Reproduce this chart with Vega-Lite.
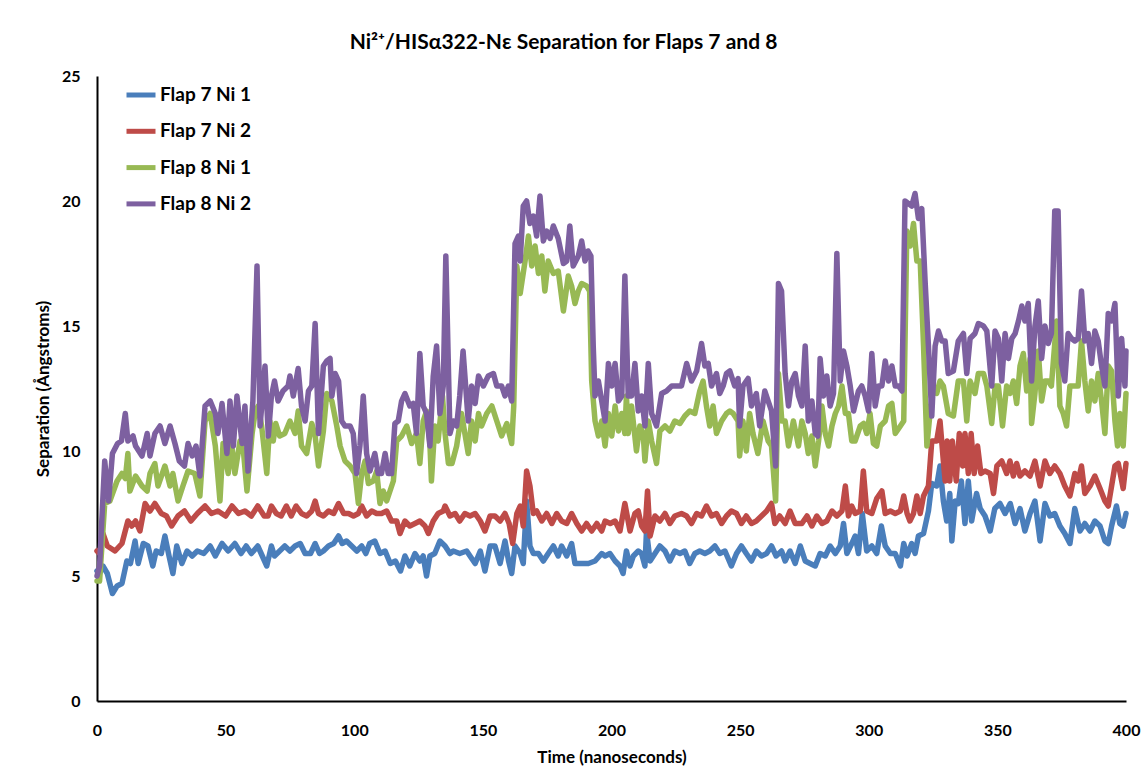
{
"$schema": "https://vega.github.io/schema/vega-lite/v6.json",
"width": 1029, "height": 625,
"autosize": {"type": "none"},
"padding": {"left": 97, "top": 76, "right": 20, "bottom": 81},
"background": "white",
"config": {"font": "Lato", "view": {"stroke": null}},
"title": {"text": "Ni²⁺/HISα322-Nε Separation for Flaps 7 and 8", "fontSize": 21, "fontWeight": "bold", "font": "Lato", "color": "black", "anchor": "middle", "frame": "group", "dx": -48, "offset": 15},
"datasets": {
"b": [{"t":0,"v":5.2},{"t":1,"v":5.1},{"t":2.3,"v":5.4},{"t":4,"v":5.1},{"t":6,"v":4.3},{"t":7.8,"v":4.6},{"t":9.7,"v":4.7},{"t":11.6,"v":5.6},{"t":13,"v":5.5},{"t":14.8,"v":6.4},{"t":16,"v":5.5},{"t":18,"v":6.3},{"t":19.8,"v":6.2},{"t":21.7,"v":5.4},{"t":23,"v":6.0},{"t":25,"v":5.9},{"t":26.4,"v":6.6},{"t":28,"v":5.8},{"t":29.5,"v":5.1},{"t":31,"v":6.2},{"t":33,"v":5.5},{"t":35,"v":6.0},{"t":37,"v":5.8},{"t":39,"v":6.0},{"t":41.5,"v":5.9},{"t":44,"v":6.2},{"t":46,"v":5.8},{"t":48.6,"v":6.3},{"t":51,"v":6.0},{"t":53.6,"v":6.3},{"t":56,"v":5.9},{"t":58,"v":6.2},{"t":60,"v":5.9},{"t":62.5,"v":6.2},{"t":66,"v":5.4},{"t":67.8,"v":6.2},{"t":69,"v":5.8},{"t":71,"v":6.0},{"t":73,"v":6.2},{"t":75,"v":6.0},{"t":77,"v":6.2},{"t":79,"v":6.3},{"t":80.9,"v":5.9},{"t":83,"v":5.9},{"t":84.8,"v":6.3},{"t":86.5,"v":5.9},{"t":88,"v":6.0},{"t":90,"v":6.2},{"t":92,"v":6.3},{"t":93.9,"v":6.6},{"t":95.3,"v":6.3},{"t":97,"v":6.4},{"t":99,"v":6.2},{"t":101,"v":6.0},{"t":102.9,"v":6.2},{"t":104.5,"v":5.9},{"t":106,"v":6.3},{"t":108,"v":6.4},{"t":110,"v":5.9},{"t":112,"v":6.0},{"t":114,"v":5.5},{"t":116,"v":5.6},{"t":118,"v":5.2},{"t":119.7,"v":5.8},{"t":121.6,"v":5.4},{"t":123.6,"v":5.9},{"t":125.5,"v":5.6},{"t":126.8,"v":5.8},{"t":128.1,"v":5.0},{"t":129.4,"v":5.8},{"t":131.3,"v":5.9},{"t":133.3,"v":6.4},{"t":135.3,"v":6.2},{"t":137.2,"v":5.9},{"t":138.5,"v":6.0},{"t":141,"v":5.9},{"t":143.7,"v":6.0},{"t":145,"v":5.8},{"t":147,"v":5.5},{"t":149,"v":6.0},{"t":150.8,"v":5.2},{"t":152.8,"v":6.2},{"t":154.7,"v":6.2},{"t":156.7,"v":5.5},{"t":158.6,"v":6.4},{"t":160,"v":5.6},{"t":161.2,"v":5.1},{"t":162.5,"v":6.2},{"t":164.5,"v":5.9},{"t":165.7,"v":5.5},{"t":167,"v":8.0},{"t":168.3,"v":6.2},{"t":169.6,"v":5.9},{"t":171.6,"v":5.9},{"t":173.5,"v":5.6},{"t":175.4,"v":5.9},{"t":177.4,"v":6.2},{"t":179.3,"v":5.8},{"t":180.6,"v":6.2},{"t":182.6,"v":5.8},{"t":184.5,"v":6.3},{"t":185.8,"v":5.5},{"t":188.4,"v":5.5},{"t":191,"v":5.5},{"t":193.6,"v":5.6},{"t":196.2,"v":5.9},{"t":197.5,"v":5.8},{"t":199.4,"v":5.9},{"t":201.4,"v":5.6},{"t":203.3,"v":5.4},{"t":204.5,"v":5.1},{"t":205.8,"v":6.0},{"t":207.2,"v":5.4},{"t":208.5,"v":5.8},{"t":210.4,"v":6.0},{"t":211.7,"v":5.9},{"t":213,"v":5.4},{"t":213.6,"v":6.8},{"t":215,"v":5.6},{"t":216.9,"v":5.9},{"t":218.8,"v":6.2},{"t":220.8,"v":6.0},{"t":222.7,"v":5.6},{"t":224.6,"v":6.0},{"t":226.6,"v":5.9},{"t":228.5,"v":6.0},{"t":230.4,"v":5.5},{"t":232.4,"v":5.9},{"t":234.3,"v":6.0},{"t":236.3,"v":5.9},{"t":238.2,"v":6.0},{"t":240.2,"v":6.2},{"t":242.1,"v":5.9},{"t":244.1,"v":6.0},{"t":246.6,"v":5.4},{"t":248.6,"v":5.9},{"t":250.5,"v":6.2},{"t":252.4,"v":5.9},{"t":254.4,"v":5.6},{"t":256.3,"v":6.0},{"t":258.3,"v":5.8},{"t":260.3,"v":5.9},{"t":262.2,"v":6.2},{"t":264,"v":5.8},{"t":266.1,"v":6.0},{"t":267.5,"v":5.6},{"t":269.4,"v":6.0},{"t":271.4,"v":5.5},{"t":273.4,"v":6.2},{"t":275.3,"v":5.6},{"t":277.2,"v":5.5},{"t":279.2,"v":5.4},{"t":281.1,"v":5.9},{"t":283.1,"v":5.8},{"t":285,"v":6.2},{"t":287,"v":5.9},{"t":288.9,"v":6.2},{"t":290.2,"v":7.1},{"t":291.5,"v":5.9},{"t":293.4,"v":6.3},{"t":294.7,"v":6.6},{"t":296,"v":5.9},{"t":297.5,"v":7.5},{"t":299.2,"v":6.0},{"t":301.2,"v":6.2},{"t":303.1,"v":5.9},{"t":304.9,"v":7.0},{"t":306.4,"v":6.2},{"t":308.4,"v":5.9},{"t":310.3,"v":5.9},{"t":312.3,"v":5.4},{"t":313.6,"v":6.3},{"t":314.9,"v":5.8},{"t":316.7,"v":6.3},{"t":318,"v":5.9},{"t":319.3,"v":6.6},{"t":321.3,"v":6.7},{"t":323.2,"v":7.6},{"t":324.5,"v":8.7},{"t":326.4,"v":8.6},{"t":327.7,"v":9.4},{"t":329,"v":8.0},{"t":330.3,"v":7.2},{"t":331.5,"v":8.3},{"t":332.3,"v":6.4},{"t":333.6,"v":8.0},{"t":334.8,"v":7.9},{"t":336,"v":8.8},{"t":337.4,"v":7.1},{"t":338.7,"v":8.8},{"t":340,"v":7.2},{"t":341.9,"v":8.3},{"t":343.3,"v":7.7},{"t":345.2,"v":7.4},{"t":347.2,"v":6.8},{"t":349,"v":7.7},{"t":351,"v":7.9},{"t":353,"v":7.5},{"t":355,"v":7.9},{"t":356.9,"v":7.1},{"t":358.8,"v":7.7},{"t":360.7,"v":6.8},{"t":362.7,"v":7.5},{"t":364.6,"v":8.0},{"t":366.6,"v":6.4},{"t":368.5,"v":7.9},{"t":370.4,"v":7.4},{"t":372.3,"v":7.5},{"t":374.3,"v":7.0},{"t":376.2,"v":6.7},{"t":378.2,"v":6.3},{"t":380.1,"v":7.7},{"t":382.1,"v":6.8},{"t":384,"v":7.1},{"t":386,"v":6.8},{"t":387.9,"v":7.2},{"t":389.9,"v":7.0},{"t":391.8,"v":6.4},{"t":393.1,"v":6.3},{"t":394.4,"v":7.0},{"t":396.3,"v":7.8},{"t":397.6,"v":7.1},{"t":398.9,"v":7.0},{"t":400,"v":7.5}],
"r": [{"t":0,"v":6.0},{"t":1,"v":5.9},{"t":2.3,"v":6.7},{"t":4,"v":6.2},{"t":5.5,"v":6.1},{"t":7,"v":6.0},{"t":9.7,"v":6.3},{"t":12,"v":7.2},{"t":13.5,"v":7.0},{"t":15,"v":7.2},{"t":16.7,"v":6.8},{"t":18.7,"v":7.9},{"t":20.6,"v":7.6},{"t":22.5,"v":7.9},{"t":25,"v":7.5},{"t":27,"v":7.4},{"t":29,"v":7.0},{"t":31.5,"v":7.4},{"t":34,"v":7.6},{"t":36.5,"v":7.2},{"t":39,"v":7.5},{"t":42,"v":7.8},{"t":44.5,"v":7.5},{"t":47,"v":7.6},{"t":50,"v":7.4},{"t":52.5,"v":7.8},{"t":55,"v":7.5},{"t":57.5,"v":7.6},{"t":60,"v":7.4},{"t":62.5,"v":7.8},{"t":65,"v":7.4},{"t":66.5,"v":7.4},{"t":67.8,"v":7.8},{"t":69.7,"v":7.5},{"t":71.6,"v":7.4},{"t":73.6,"v":7.8},{"t":75.5,"v":7.4},{"t":77.4,"v":7.8},{"t":79.5,"v":7.5},{"t":81.5,"v":7.4},{"t":83.5,"v":7.6},{"t":84.8,"v":8.0},{"t":86.1,"v":7.5},{"t":88,"v":7.4},{"t":90,"v":7.6},{"t":92,"v":7.5},{"t":93.9,"v":7.9},{"t":95.9,"v":7.5},{"t":97.8,"v":7.5},{"t":99.7,"v":7.4},{"t":101.6,"v":7.5},{"t":102.9,"v":7.8},{"t":104.8,"v":7.4},{"t":106.8,"v":7.6},{"t":108.7,"v":7.5},{"t":110.6,"v":7.5},{"t":112.6,"v":7.6},{"t":114.5,"v":7.2},{"t":116.5,"v":7.2},{"t":117.8,"v":6.7},{"t":119.7,"v":7.2},{"t":121.6,"v":7.0},{"t":123.6,"v":7.1},{"t":125.5,"v":7.2},{"t":127.5,"v":7.0},{"t":128.8,"v":6.7},{"t":130.7,"v":7.2},{"t":132.6,"v":7.5},{"t":134.6,"v":7.6},{"t":135.3,"v":7.8},{"t":137.2,"v":7.4},{"t":139.2,"v":7.5},{"t":141,"v":7.2},{"t":143,"v":7.5},{"t":145,"v":7.4},{"t":147,"v":7.5},{"t":149,"v":7.2},{"t":150.8,"v":6.8},{"t":152.8,"v":7.4},{"t":154.7,"v":7.4},{"t":156.7,"v":7.2},{"t":158.6,"v":7.5},{"t":160.2,"v":7.1},{"t":161.6,"v":6.3},{"t":163.2,"v":7.5},{"t":164.5,"v":7.8},{"t":165.7,"v":7.0},{"t":167,"v":9.2},{"t":168.3,"v":8.6},{"t":169.6,"v":7.5},{"t":170.9,"v":7.6},{"t":172.9,"v":7.2},{"t":174.8,"v":7.5},{"t":176.8,"v":7.1},{"t":178.7,"v":7.5},{"t":180.6,"v":7.2},{"t":182.6,"v":7.1},{"t":184.5,"v":7.5},{"t":186.5,"v":7.1},{"t":188.4,"v":6.8},{"t":190.3,"v":7.1},{"t":192.3,"v":6.8},{"t":194.3,"v":7.1},{"t":196.2,"v":6.8},{"t":197.5,"v":7.2},{"t":199.5,"v":7.1},{"t":201.4,"v":7.2},{"t":203.3,"v":6.8},{"t":205.2,"v":7.9},{"t":207.2,"v":6.8},{"t":209.1,"v":7.5},{"t":210.4,"v":7.6},{"t":211.7,"v":7.0},{"t":213,"v":6.8},{"t":214,"v":8.4},{"t":215,"v":6.6},{"t":216.9,"v":7.4},{"t":218.8,"v":7.2},{"t":220.8,"v":7.5},{"t":222.7,"v":7.1},{"t":224.6,"v":7.4},{"t":227.2,"v":7.5},{"t":229.2,"v":7.4},{"t":231.1,"v":7.1},{"t":233.1,"v":7.5},{"t":235,"v":7.4},{"t":236.9,"v":7.8},{"t":238.9,"v":7.4},{"t":240.8,"v":7.5},{"t":242.8,"v":7.1},{"t":244.7,"v":7.4},{"t":246.6,"v":7.6},{"t":248.6,"v":7.5},{"t":250.5,"v":7.1},{"t":252.4,"v":7.4},{"t":254.4,"v":7.1},{"t":256.3,"v":7.2},{"t":258.3,"v":7.4},{"t":260.3,"v":7.6},{"t":262.2,"v":7.9},{"t":263.5,"v":7.1},{"t":265.4,"v":7.4},{"t":267.5,"v":7.1},{"t":269.4,"v":7.6},{"t":271.4,"v":7.1},{"t":274,"v":7.1},{"t":276,"v":7.4},{"t":277.9,"v":7.0},{"t":279.8,"v":7.4},{"t":281.8,"v":7.1},{"t":283.7,"v":7.2},{"t":285.7,"v":7.6},{"t":287.6,"v":7.4},{"t":289.6,"v":7.6},{"t":290.9,"v":8.6},{"t":292.1,"v":7.4},{"t":293.4,"v":7.8},{"t":294.7,"v":7.5},{"t":296.7,"v":7.6},{"t":297.9,"v":9.2},{"t":299.2,"v":7.6},{"t":301.2,"v":7.5},{"t":303.1,"v":8.1},{"t":305.1,"v":8.4},{"t":306.4,"v":7.5},{"t":308.4,"v":7.6},{"t":310.3,"v":7.5},{"t":312.3,"v":7.6},{"t":313.6,"v":8.2},{"t":314.9,"v":7.5},{"t":316,"v":7.2},{"t":317.4,"v":7.5},{"t":318.7,"v":8.2},{"t":320,"v":7.5},{"t":321.3,"v":8.2},{"t":323.2,"v":8.6},{"t":324.5,"v":10.4},{"t":326.4,"v":10.4},{"t":327.7,"v":11.2},{"t":329,"v":9.6},{"t":329.7,"v":8.8},{"t":330.5,"v":10.4},{"t":331.5,"v":8.8},{"t":332.5,"v":10.4},{"t":334,"v":8.8},{"t":335.2,"v":10.7},{"t":336.5,"v":9.4},{"t":337.4,"v":10.7},{"t":338.7,"v":9.1},{"t":339.8,"v":10.7},{"t":341,"v":9.1},{"t":342.3,"v":10.2},{"t":343.6,"v":9.1},{"t":345.2,"v":9.2},{"t":347.2,"v":9.1},{"t":348.5,"v":8.3},{"t":349.8,"v":9.4},{"t":351.7,"v":9.6},{"t":353.6,"v":9.1},{"t":354.9,"v":9.6},{"t":356.2,"v":9.0},{"t":357.5,"v":9.5},{"t":358.8,"v":9.0},{"t":360.7,"v":9.2},{"t":362.7,"v":9.0},{"t":364.6,"v":9.6},{"t":366.6,"v":8.6},{"t":368.5,"v":9.6},{"t":370.4,"v":9.1},{"t":372.3,"v":9.4},{"t":374.3,"v":9.1},{"t":376.2,"v":8.6},{"t":378.2,"v":8.2},{"t":380.1,"v":9.1},{"t":381.4,"v":8.8},{"t":382.7,"v":9.4},{"t":384,"v":8.3},{"t":386,"v":8.6},{"t":387.9,"v":9.0},{"t":389.9,"v":8.5},{"t":391.8,"v":8.0},{"t":393.1,"v":7.8},{"t":394.4,"v":8.6},{"t":395.7,"v":9.4},{"t":397,"v":9.5},{"t":398.9,"v":8.5},{"t":400,"v":9.5}],
"g": [{"t":0,"v":4.8},{"t":1,"v":4.8},{"t":3,"v":7.9},{"t":5,"v":8.0},{"t":7.8,"v":8.8},{"t":9.7,"v":9.1},{"t":11,"v":8.9},{"t":12,"v":9.9},{"t":12.8,"v":8.4},{"t":15,"v":9.0},{"t":17.5,"v":8.6},{"t":19.5,"v":8.4},{"t":20.6,"v":9.1},{"t":22.5,"v":9.5},{"t":23.7,"v":8.6},{"t":26.4,"v":9.4},{"t":28.4,"v":8.6},{"t":29.5,"v":9.1},{"t":31.5,"v":8.0},{"t":33.4,"v":8.6},{"t":35.4,"v":9.2},{"t":38,"v":9.1},{"t":40,"v":8.2},{"t":42,"v":11.2},{"t":44,"v":11.5},{"t":46,"v":10.2},{"t":47.8,"v":8.0},{"t":49,"v":10.3},{"t":51,"v":9.1},{"t":52.3,"v":10.3},{"t":53.6,"v":9.1},{"t":55.6,"v":10.4},{"t":57,"v":9.9},{"t":58.3,"v":8.4},{"t":60.3,"v":10.7},{"t":61.4,"v":11.5},{"t":62.6,"v":11.8},{"t":64,"v":11.0},{"t":66,"v":9.1},{"t":67.2,"v":11.2},{"t":68.5,"v":10.4},{"t":69.5,"v":11.1},{"t":71,"v":10.6},{"t":73,"v":10.7},{"t":75,"v":11.2},{"t":77,"v":10.7},{"t":78.2,"v":11.6},{"t":79.5,"v":10.2},{"t":81.5,"v":9.9},{"t":83.5,"v":11.1},{"t":84.8,"v":10.6},{"t":86.1,"v":9.4},{"t":88,"v":10.8},{"t":89.3,"v":12.3},{"t":91.3,"v":12.0},{"t":93.2,"v":11.0},{"t":94.5,"v":10.2},{"t":96.4,"v":9.6},{"t":98.4,"v":9.4},{"t":100.3,"v":9.1},{"t":101.6,"v":7.9},{"t":102.9,"v":9.1},{"t":104.2,"v":9.6},{"t":105.5,"v":8.7},{"t":107.4,"v":8.8},{"t":108.7,"v":9.2},{"t":110,"v":7.9},{"t":111.3,"v":8.4},{"t":112.6,"v":8.0},{"t":113.9,"v":8.4},{"t":115.2,"v":8.8},{"t":116.5,"v":10.4},{"t":118.4,"v":10.6},{"t":120.4,"v":11.0},{"t":122.3,"v":10.3},{"t":124.2,"v":10.7},{"t":125.5,"v":9.5},{"t":126.8,"v":11.2},{"t":128.1,"v":11.6},{"t":129.4,"v":10.3},{"t":130,"v":8.8},{"t":131.3,"v":11.0},{"t":132.6,"v":10.4},{"t":134.3,"v":12.2},{"t":135.3,"v":10.7},{"t":136.6,"v":9.5},{"t":138,"v":9.5},{"t":139.8,"v":10.2},{"t":141.7,"v":11.5},{"t":143,"v":10.7},{"t":144.3,"v":9.9},{"t":145.6,"v":11.2},{"t":147,"v":10.4},{"t":148.3,"v":11.5},{"t":149.5,"v":11.0},{"t":151.5,"v":11.5},{"t":153.5,"v":11.8},{"t":155.4,"v":11.2},{"t":157.3,"v":10.6},{"t":159.3,"v":11.1},{"t":161.2,"v":10.3},{"t":162,"v":11.8},{"t":163.2,"v":17.4},{"t":164.5,"v":16.3},{"t":166.4,"v":17.6},{"t":167.7,"v":18.6},{"t":169,"v":17.4},{"t":170.3,"v":18.2},{"t":171.6,"v":17.1},{"t":172.9,"v":17.8},{"t":174.1,"v":16.4},{"t":175.4,"v":17.6},{"t":177.4,"v":17.1},{"t":179.3,"v":17.2},{"t":181.3,"v":15.6},{"t":183.2,"v":17.0},{"t":184.5,"v":16.6},{"t":185.8,"v":15.9},{"t":187.1,"v":16.4},{"t":188.4,"v":16.7},{"t":190.3,"v":16.6},{"t":191.5,"v":16.4},{"t":192.3,"v":12.8},{"t":193.6,"v":11.2},{"t":194.9,"v":10.6},{"t":196.2,"v":11.2},{"t":197.5,"v":10.2},{"t":198.8,"v":11.5},{"t":200.1,"v":10.6},{"t":201.4,"v":11.8},{"t":202.7,"v":10.8},{"t":204,"v":11.5},{"t":205.2,"v":10.7},{"t":205.8,"v":12.2},{"t":206.5,"v":10.7},{"t":207.8,"v":11.8},{"t":209.7,"v":10.0},{"t":211,"v":11.0},{"t":212.3,"v":10.7},{"t":213,"v":9.6},{"t":214.3,"v":11.2},{"t":215.6,"v":10.4},{"t":217.5,"v":9.5},{"t":218.8,"v":10.8},{"t":220.8,"v":11.0},{"t":222.7,"v":10.8},{"t":224.6,"v":11.2},{"t":226.6,"v":11.1},{"t":228.5,"v":11.4},{"t":230.4,"v":11.6},{"t":232.4,"v":11.5},{"t":234.3,"v":12.4},{"t":235.6,"v":12.8},{"t":236.9,"v":11.8},{"t":238.2,"v":11.0},{"t":239.5,"v":11.8},{"t":240.8,"v":10.7},{"t":242.8,"v":11.2},{"t":244.7,"v":11.5},{"t":246,"v":11.6},{"t":247.3,"v":11.5},{"t":249.2,"v":11.2},{"t":249.8,"v":9.8},{"t":251.1,"v":11.2},{"t":252.4,"v":10.0},{"t":253.7,"v":11.5},{"t":255,"v":10.7},{"t":256.9,"v":9.9},{"t":258.9,"v":11.2},{"t":260.9,"v":10.4},{"t":262.2,"v":10.2},{"t":263.8,"v":8.0},{"t":264.9,"v":13.1},{"t":266.2,"v":11.2},{"t":267.5,"v":11.2},{"t":268.8,"v":10.2},{"t":270.7,"v":11.2},{"t":272.7,"v":10.2},{"t":274,"v":11.2},{"t":275.3,"v":10.7},{"t":276.5,"v":9.9},{"t":277.9,"v":10.6},{"t":279.2,"v":9.4},{"t":280.5,"v":10.4},{"t":281.8,"v":11.8},{"t":283.1,"v":10.7},{"t":284.4,"v":10.2},{"t":285.7,"v":11.0},{"t":287,"v":11.5},{"t":288.3,"v":11.8},{"t":289.6,"v":12.6},{"t":290.9,"v":11.5},{"t":292.1,"v":11.5},{"t":293.4,"v":10.4},{"t":294.7,"v":10.4},{"t":296.7,"v":11.0},{"t":298,"v":11.1},{"t":299.2,"v":10.7},{"t":300.5,"v":11.5},{"t":301.8,"v":10.3},{"t":303.1,"v":10.2},{"t":304.5,"v":11.0},{"t":306.4,"v":11.2},{"t":307.7,"v":11.8},{"t":309,"v":11.9},{"t":310.3,"v":10.7},{"t":312.3,"v":11.0},{"t":313.6,"v":11.2},{"t":314.8,"v":18.8},{"t":316.1,"v":18.2},{"t":317.4,"v":19.1},{"t":318.7,"v":17.6},{"t":320,"v":17.6},{"t":321.3,"v":14.2},{"t":322.6,"v":10.2},{"t":323.9,"v":11.6},{"t":325.1,"v":12.6},{"t":326.4,"v":12.3},{"t":327.7,"v":12.8},{"t":329,"v":12.6},{"t":330.9,"v":11.5},{"t":332.9,"v":11.4},{"t":334.8,"v":12.8},{"t":336.8,"v":12.8},{"t":338.1,"v":11.2},{"t":339.4,"v":12.8},{"t":341.3,"v":12.3},{"t":342.6,"v":13.1},{"t":344.6,"v":13.1},{"t":345.9,"v":12.6},{"t":347.8,"v":11.1},{"t":349.1,"v":12.6},{"t":350.4,"v":12.6},{"t":352,"v":11.0},{"t":353.6,"v":12.6},{"t":354.9,"v":12.3},{"t":356.2,"v":12.8},{"t":357.5,"v":11.9},{"t":358.8,"v":13.4},{"t":360.1,"v":13.9},{"t":361.4,"v":12.4},{"t":362.7,"v":13.7},{"t":363.3,"v":11.1},{"t":364.6,"v":12.3},{"t":365.9,"v":14.0},{"t":367.2,"v":12.0},{"t":368.5,"v":12.8},{"t":369.8,"v":12.8},{"t":371,"v":12.6},{"t":373,"v":15.2},{"t":374.3,"v":11.8},{"t":375.6,"v":11.5},{"t":376.9,"v":11.0},{"t":378.2,"v":12.6},{"t":380.1,"v":12.6},{"t":381.4,"v":12.6},{"t":382.7,"v":14.4},{"t":384,"v":12.8},{"t":385.3,"v":11.6},{"t":386.6,"v":12.8},{"t":387.9,"v":12.0},{"t":389.2,"v":13.1},{"t":390.5,"v":12.0},{"t":391.8,"v":10.7},{"t":393.1,"v":13.4},{"t":394.4,"v":13.2},{"t":395.7,"v":11.2},{"t":396.7,"v":10.2},{"t":397.6,"v":11.5},{"t":398.9,"v":10.2},{"t":400,"v":12.3}],
"p": [{"t":0,"v":5.0},{"t":1,"v":5.4},{"t":3,"v":9.6},{"t":4.5,"v":8.0},{"t":6,"v":9.9},{"t":8,"v":10.3},{"t":9.5,"v":10.4},{"t":11,"v":11.5},{"t":12,"v":10.4},{"t":14,"v":10.6},{"t":15,"v":10.2},{"t":17.5,"v":9.8},{"t":19.5,"v":10.7},{"t":20.6,"v":9.8},{"t":22.5,"v":10.7},{"t":24.5,"v":11.0},{"t":26.4,"v":10.3},{"t":28.4,"v":11.0},{"t":30.3,"v":10.3},{"t":32,"v":9.6},{"t":34,"v":9.4},{"t":35.4,"v":10.3},{"t":37,"v":9.8},{"t":38.5,"v":10.2},{"t":40,"v":9.0},{"t":42,"v":11.8},{"t":44,"v":12.0},{"t":46,"v":11.5},{"t":47,"v":10.7},{"t":48.6,"v":11.9},{"t":50.5,"v":9.9},{"t":51.7,"v":12.0},{"t":53,"v":10.2},{"t":54.4,"v":12.2},{"t":56.4,"v":10.3},{"t":57.5,"v":11.8},{"t":58.7,"v":9.2},{"t":60.6,"v":12.0},{"t":62.2,"v":17.4},{"t":63.4,"v":11.0},{"t":65.3,"v":13.4},{"t":66.6,"v":10.6},{"t":67.8,"v":12.2},{"t":69,"v":12.8},{"t":70.4,"v":12.0},{"t":72.3,"v":12.4},{"t":74.3,"v":12.6},{"t":75,"v":13.0},{"t":76.3,"v":12.2},{"t":78.2,"v":13.3},{"t":79.5,"v":11.8},{"t":80.9,"v":11.2},{"t":82.2,"v":12.4},{"t":83.5,"v":12.6},{"t":84.8,"v":15.1},{"t":86.1,"v":10.7},{"t":88,"v":13.4},{"t":89.3,"v":13.6},{"t":90.6,"v":13.7},{"t":91.3,"v":12.2},{"t":92.6,"v":13.1},{"t":93.9,"v":12.8},{"t":95.1,"v":11.2},{"t":96.4,"v":11.0},{"t":98.4,"v":11.0},{"t":99.6,"v":10.7},{"t":100.9,"v":9.1},{"t":102.2,"v":10.2},{"t":103.5,"v":12.2},{"t":104.8,"v":9.9},{"t":106.1,"v":9.2},{"t":108,"v":9.9},{"t":109.3,"v":9.1},{"t":110.6,"v":9.1},{"t":112,"v":9.9},{"t":113.2,"v":9.1},{"t":114.5,"v":9.1},{"t":115.8,"v":11.1},{"t":117.1,"v":11.2},{"t":118.4,"v":12.0},{"t":119.7,"v":12.3},{"t":121.6,"v":11.8},{"t":122.9,"v":11.9},{"t":124.2,"v":10.7},{"t":125.5,"v":13.9},{"t":126.8,"v":11.8},{"t":128.1,"v":11.5},{"t":129.4,"v":10.2},{"t":130.7,"v":13.0},{"t":132,"v":14.2},{"t":133.3,"v":11.5},{"t":134.6,"v":12.6},{"t":135.6,"v":17.8},{"t":137.2,"v":10.7},{"t":138.5,"v":11.2},{"t":139.8,"v":11.0},{"t":141,"v":12.2},{"t":142.3,"v":14.0},{"t":144.3,"v":11.2},{"t":145.6,"v":12.6},{"t":147,"v":11.9},{"t":148.3,"v":13.0},{"t":150.2,"v":12.6},{"t":152.1,"v":13.0},{"t":154.1,"v":13.1},{"t":155.4,"v":12.6},{"t":157.3,"v":12.6},{"t":158.6,"v":12.2},{"t":159.9,"v":12.6},{"t":161.2,"v":12.0},{"t":162.5,"v":18.3},{"t":163.8,"v":18.6},{"t":164.5,"v":17.6},{"t":165.7,"v":19.8},{"t":167,"v":20.0},{"t":168.3,"v":19.1},{"t":169.6,"v":19.4},{"t":170.9,"v":18.6},{"t":172.2,"v":20.2},{"t":173.5,"v":18.4},{"t":174.8,"v":18.8},{"t":176.1,"v":18.5},{"t":177.4,"v":19.0},{"t":179.3,"v":18.5},{"t":181.3,"v":17.5},{"t":182.6,"v":17.6},{"t":183.8,"v":19.0},{"t":185.1,"v":17.4},{"t":187.1,"v":17.8},{"t":188.4,"v":18.4},{"t":189.7,"v":17.6},{"t":190.9,"v":18.0},{"t":192,"v":17.8},{"t":192.9,"v":14.2},{"t":193.6,"v":12.2},{"t":194.9,"v":12.8},{"t":196.2,"v":12.0},{"t":197.5,"v":11.2},{"t":198.8,"v":13.5},{"t":200.1,"v":12.6},{"t":201.4,"v":13.5},{"t":202.7,"v":12.0},{"t":204,"v":12.2},{"t":205.2,"v":17.0},{"t":206.5,"v":12.2},{"t":207.8,"v":12.2},{"t":209.1,"v":13.5},{"t":210.4,"v":11.6},{"t":211.7,"v":12.2},{"t":213,"v":11.0},{"t":214.3,"v":13.5},{"t":215.6,"v":11.5},{"t":217.5,"v":11.0},{"t":219.5,"v":12.3},{"t":221.4,"v":12.4},{"t":223.4,"v":12.6},{"t":225.3,"v":12.6},{"t":227.2,"v":12.6},{"t":229.2,"v":13.5},{"t":231.1,"v":12.8},{"t":233.1,"v":13.2},{"t":235,"v":14.3},{"t":236.3,"v":13.4},{"t":237.6,"v":13.5},{"t":238.9,"v":12.6},{"t":240.8,"v":13.1},{"t":242.1,"v":12.3},{"t":243.4,"v":12.6},{"t":244.7,"v":13.1},{"t":246,"v":13.2},{"t":247.9,"v":12.6},{"t":249.2,"v":12.9},{"t":249.8,"v":11.0},{"t":251.1,"v":12.6},{"t":253.1,"v":12.9},{"t":254.4,"v":11.8},{"t":256.3,"v":12.3},{"t":257.6,"v":11.0},{"t":259.6,"v":12.4},{"t":260.9,"v":12.0},{"t":262.2,"v":11.6},{"t":263.8,"v":9.4},{"t":264.9,"v":16.7},{"t":266.1,"v":16.4},{"t":267.5,"v":13.1},{"t":268.8,"v":11.8},{"t":270.1,"v":12.8},{"t":271.4,"v":13.1},{"t":272.7,"v":12.2},{"t":274,"v":11.8},{"t":275.3,"v":14.2},{"t":276.5,"v":11.2},{"t":277.9,"v":12.0},{"t":279.2,"v":10.7},{"t":280.2,"v":10.6},{"t":281.1,"v":13.7},{"t":282.4,"v":12.2},{"t":283.7,"v":13.0},{"t":285,"v":11.8},{"t":286.3,"v":12.3},{"t":287.6,"v":17.9},{"t":288.9,"v":12.8},{"t":290.2,"v":14.0},{"t":291.5,"v":13.4},{"t":292.8,"v":12.6},{"t":294.1,"v":11.6},{"t":296,"v":12.4},{"t":297.3,"v":12.6},{"t":298.6,"v":12.2},{"t":299.9,"v":11.6},{"t":301.2,"v":13.9},{"t":302.5,"v":11.8},{"t":303.8,"v":12.6},{"t":305.1,"v":12.6},{"t":306.4,"v":13.6},{"t":307.7,"v":12.8},{"t":309,"v":13.4},{"t":310.3,"v":12.6},{"t":311.6,"v":12.6},{"t":312.9,"v":12.4},{"t":314.1,"v":20.0},{"t":315.4,"v":19.9},{"t":316.7,"v":19.8},{"t":318,"v":20.3},{"t":319.3,"v":19.3},{"t":320.6,"v":19.7},{"t":321.9,"v":16.8},{"t":323.2,"v":14.2},{"t":324.5,"v":11.4},{"t":325.8,"v":14.2},{"t":327.1,"v":14.8},{"t":328.4,"v":14.4},{"t":329.7,"v":14.4},{"t":330.9,"v":13.1},{"t":332.9,"v":13.2},{"t":334.8,"v":14.4},{"t":336.8,"v":14.7},{"t":338.1,"v":13.1},{"t":339.4,"v":14.5},{"t":341.3,"v":14.7},{"t":342.6,"v":15.1},{"t":344.6,"v":15.0},{"t":345.9,"v":14.8},{"t":347.8,"v":12.6},{"t":349.1,"v":14.8},{"t":350.4,"v":14.5},{"t":351.7,"v":12.8},{"t":353,"v":14.7},{"t":354.3,"v":13.7},{"t":355.6,"v":14.5},{"t":356.9,"v":14.7},{"t":358.2,"v":15.2},{"t":359.5,"v":15.8},{"t":360.7,"v":15.2},{"t":362,"v":15.9},{"t":363.3,"v":12.8},{"t":364.6,"v":15.0},{"t":365.9,"v":16.0},{"t":367.2,"v":13.7},{"t":368.5,"v":15.0},{"t":369.8,"v":14.3},{"t":371,"v":14.7},{"t":372.3,"v":19.6},{"t":373.6,"v":19.6},{"t":374.9,"v":13.5},{"t":376.2,"v":12.8},{"t":377.5,"v":14.7},{"t":378.8,"v":14.5},{"t":380.1,"v":14.4},{"t":381.4,"v":14.5},{"t":382.7,"v":16.4},{"t":384,"v":14.4},{"t":385.3,"v":14.7},{"t":386.6,"v":13.5},{"t":387.9,"v":14.8},{"t":389.2,"v":14.4},{"t":390.5,"v":13.4},{"t":391.8,"v":12.6},{"t":393.1,"v":15.5},{"t":394.4,"v":15.2},{"t":395.7,"v":15.9},{"t":397,"v":12.2},{"t":398.3,"v":14.5},{"t":399.6,"v":12.6},{"t":400,"v":14.0}]
},
"encoding": {
  "x": {"field": "t", "type": "quantitative", "scale": {"domain": [0, 400], "nice": false, "zero": false},
        "axis": {"title": "Time (nanoseconds)", "values": [0,50,100,150,200,250,300,350,400], "grid": false, "ticks": false, "tickSize": 0, "domainColor": "black", "domainWidth": 2, "labelFont": "Lato", "labelFontSize": 16, "labelFontWeight": "bold", "labelColor": "black", "labelPadding": 21, "labelFlush": false, "titleFont": "Lato", "titleFontSize": 17, "titleFontWeight": "bold", "titleColor": "black", "titlePadding": 11}},
  "y": {"field": "v", "type": "quantitative", "scale": {"domain": [0, 25], "nice": false},
        "axis": {"title": "Separation (Ångstroms)", "values": [0,5,10,15,20,25], "grid": false, "ticks": false, "tickSize": 0, "domainColor": "black", "domainWidth": 2, "labelFont": "Lato", "labelFontSize": 16, "labelFontWeight": "bold", "labelColor": "black", "labelPadding": 17, "labelFlush": false, "titleFont": "Lato", "titleFontSize": 17, "titleFontWeight": "bold", "titleColor": "black", "titlePadding": 9}}
},
"layer": [
  {"data": {"name": "b"}, "mark": {"type": "line", "strokeWidth": 5.5, "strokeJoin": "round", "strokeCap": "round"},
   "encoding": {"color": {"datum": "Flap 7 Ni 1", "type": "nominal",
     "scale": {"domain": ["Flap 7 Ni 1", "Flap 7 Ni 2", "Flap 8 Ni 1", "Flap 8 Ni 2"], "range": ["#4a7ebb", "#be4b48", "#98b954", "#7d60a0"]},
     "legend": {"title": null, "orient": "none", "legendX": 27, "legendY": 2, "symbolType": "stroke", "symbolSize": 841, "symbolStrokeWidth": 5, "labelFont": "Lato", "labelFontSize": 19, "labelFontWeight": "bold", "labelColor": "black", "rowPadding": 9.3, "labelOffset": 2}}}},
  {"data": {"name": "r"}, "mark": {"type": "line", "strokeWidth": 5.5, "strokeJoin": "round", "strokeCap": "round"},
   "encoding": {"color": {"datum": "Flap 7 Ni 2", "type": "nominal"}}},
  {"data": {"name": "g"}, "mark": {"type": "line", "strokeWidth": 5.5, "strokeJoin": "round", "strokeCap": "round"},
   "encoding": {"color": {"datum": "Flap 8 Ni 1", "type": "nominal"}}},
  {"data": {"name": "p"}, "mark": {"type": "line", "strokeWidth": 5.5, "strokeJoin": "round", "strokeCap": "round"},
   "encoding": {"color": {"datum": "Flap 8 Ni 2", "type": "nominal"}}}
]
}
